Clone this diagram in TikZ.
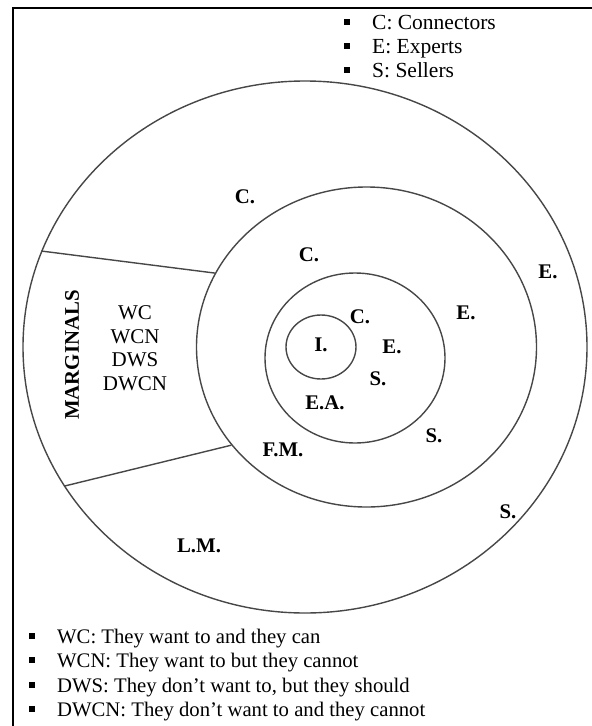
\documentclass[tikz,border=0pt]{standalone}
\usepackage{fontspec}
\setmainfont{Liberation Serif}
\usetikzlibrary{shapes.geometric}
\begin{document}
\begin{tikzpicture}[x=1pt,y=-1pt,
  ring/.style={ellipse, draw=black!72, line width=1.4pt, inner sep=0pt},
  sepline/.style={draw=black!72, line width=1.4pt},
  lbl/.style={font=\fontsize{20.8}{24}\selectfont\bfseries, inner sep=0pt},
  txt/.style={font=\fontsize{21.5}{24}\selectfont, inner sep=0pt, anchor=base west},
  txtb/.style={font=\fontsize{20.7}{24}\selectfont, inner sep=0pt, anchor=base west},
  bul/.style={fill=black, minimum size=5.5pt, inner sep=0pt}
]
\useasboundingbox (0,0) rectangle (592,726);
\draw[line width=2pt] (13,726) -- (13,8) -- (592,8);

% rings
\node[ring, minimum width=564pt, minimum height=532pt] (outer) at (305,347) {};
\node[ring, minimum width=340pt, minimum height=320pt] (mid) at (366.5,347) {};
\node[ring, minimum width=180pt, minimum height=170pt] (inn) at (355,358) {};
\node[ring, minimum width=70pt, minimum height=64pt] (core) at (321,347) {};

% separators of the marginals sector
\draw[sepline] (outer.160) -- (mid.154);
\draw[sepline] (outer.210) -- (mid.216);

% top legend
\node[bul] (b1) at (347,22) {};
\node[bul] (b2) at (347,46) {};
\node[bul] (b3) at (347,70) {};
\node[txt] (t1) at (372,29) {C: Connectors};
\node[txt] (t2) at (372,53) {E: Experts};
\node[txt] (t3) at (372,77) {S: Sellers};

% marginals
\node[lbl, rotate=90] (marg) at (72,355) {MARGINALS};
\node[font=\fontsize{21}{23.5}\selectfont, align=center, inner sep=0pt] (list) at (135,348) {WC\\WCN\\DWS\\DWCN};

% outer ring labels
\node[lbl] (oc) at (245,197) {C.};
\node[lbl] (oe) at (548,272) {E.};
\node[lbl] (os) at (508,512) {S.};
\node[lbl] (lm) at (199,546) {L.M.};

% middle ring labels
\node[lbl] (mc) at (309,255) {C.};
\node[lbl] (me) at (466,313) {E.};
\node[lbl] (ms) at (434,436) {S.};
\node[lbl] (fm) at (283,450) {F.M.};

% inner ring labels
\node[lbl] (ic) at (360,317) {C.};
\node[lbl] (ie) at (392,347) {E.};
\node[lbl] (is) at (378,379) {S.};
\node[lbl] (ea) at (325,403) {E.A.};
\node[lbl] (ii) at (321,345) {I.};

% bottom legend
\node[bul] (c1) at (32,636) {};
\node[bul] (c2) at (32,660) {};
\node[bul] (c3) at (32,685) {};
\node[bul] (c4) at (32,709) {};
\node[txtb] (u1) at (57,643) {WC: They want to and they can};
\node[txtb] (u2) at (57,667) {WCN: They want to but they cannot};
\node[txtb] (u3) at (57,692) {DWS: They don’t want to, but they should};
\node[txtb] (u4) at (57,716) {DWCN: They don’t want to and they cannot};
\end{tikzpicture}
\end{document}
